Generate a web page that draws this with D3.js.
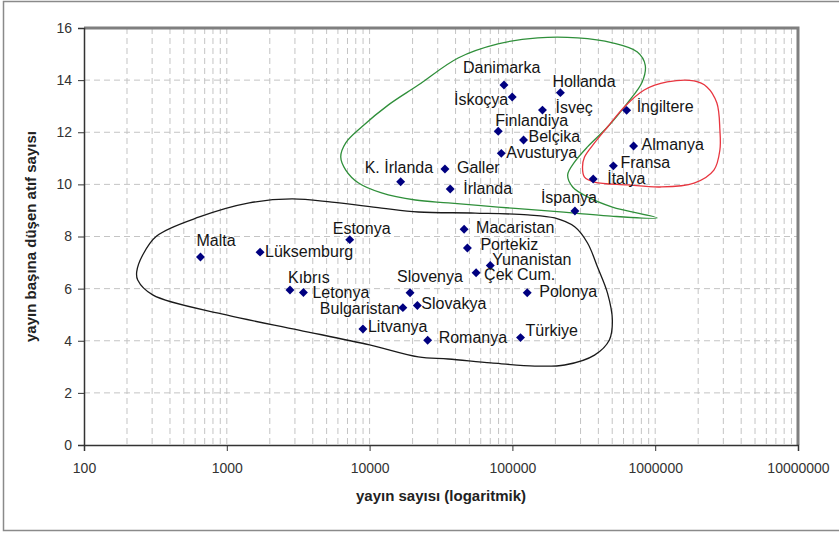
<!DOCTYPE html>
<html><head><meta charset="utf-8">
<script src="https://cdn.jsdelivr.net/npm/d3@7"></script>
<style>
html,body{margin:0;padding:0;background:#fff;}
svg{display:block;font-family:"Liberation Sans",Arial,sans-serif;}
</style></head>
<body>
<svg id="chart" width="839" height="533"></svg>
<script>
// ---- data ----
const countries = ["Malta","Lüksemburg","Estonya","Kıbrıs","Letonya","Bulgaristan","Slovenya","Slovakya","Litvanya","Romanya","Türkiye","Polonya","Çek Cum.","Yunanistan","Portekiz","Macaristan","K. İrlanda","Galler","İrlanda","İspanya","Avusturya","Belçika","Finlandiya","İsveç","İskoçya","Danimarka","Hollanda","İngiltere","Almanya","Fransa","İtalya"];
const publications = [654,1710,7260,2770,3440,17100,19200,21600,8980,25500,114000,127000,55700,70000,48400,45900,16500,33700,36700,274000,83600,119700,79600,162400,99700,87300,216800,631000,706000,509500,368100];
const citesPerPub = [7.21,7.40,7.88,5.95,5.85,5.27,5.84,5.35,4.45,4.02,4.12,5.84,6.61,6.89,7.56,8.28,10.10,10.59,9.82,8.98,11.19,11.70,12.04,12.85,13.35,13.81,13.52,12.84,11.47,10.71,10.21];
const xTickValues = [100,1000,10000,100000,1000000,10000000];
const yTickValues = [0,2,4,6,8,10,12,14,16];
const xTitle = "yayın sayısı (logaritmik)";
const yTitle = "yayın başına düşen atıf sayısı";
// group outlines (hand-drawn), as [log10(publications), cites]
const blackGroup = [[2.369,6.64],[2.411,7.29],[2.509,8.02],[2.808,8.75],[3.157,9.29],[3.456,9.44],[3.735,9.32],[4.084,9.09],[4.341,8.94],[4.739,8.90],[5.108,8.83],[5.296,8.71],[5.436,8.37],[5.526,7.75],[5.596,6.83],[5.666,5.83],[5.700,4.80],[5.679,4.03],[5.575,3.45],[5.366,3.07],[5.157,3.03],[4.850,3.15],[4.551,3.30],[4.341,3.38],[4.0,3.84],[3.505,4.41],[2.997,4.99],[2.481,5.76],[2.376,6.33]];
const greenGroup = [[3.944,12.20],[4.132,13.05],[4.341,13.81],[4.620,14.85],[4.899,15.39],[5.178,15.62],[5.456,15.62],[5.700,15.43],[5.875,15.08],[5.930,14.58],[5.909,13.93],[5.805,13.12],[5.666,12.20],[5.526,11.44],[5.436,10.86],[5.387,10.36],[5.422,9.90],[5.526,9.52],[5.700,9.13],[6.014,8.71],[5.666,8.79],[5.436,8.90],[5.247,8.98],[4.899,9.13],[4.551,9.29],[4.321,9.40],[4.084,9.67],[3.923,10.05],[3.833,10.55],[3.798,11.05],[3.833,11.59]];
const redGroup = [[5.491,10.67],[5.505,11.05],[5.575,11.59],[5.666,12.20],[5.784,12.97],[5.923,13.62],[6.084,13.93],[6.272,13.97],[6.362,13.74],[6.432,13.12],[6.453,12.09],[6.453,11.32],[6.411,10.55],[6.272,10.05],[6.035,9.90],[5.805,9.98],[5.575,10.09],[5.505,10.28]];

// ---- label layout (offsets in px from marker) ----
const labelLayout = {
 "Malta":[-4,-11,"start"],"Lüksemburg":[5,5,"start"],"Estonya":[-17,-6,"start"],"Kıbrıs":[-2,-7,"start"],
 "Letonya":[9,5,"start"],"Bulgaristan":[-3,6,"end"],"Slovenya":[-13,-11,"start"],"Slovakya":[4,3,"start"],
 "Litvanya":[5,3,"start"],"Romanya":[11,3,"start"],"Türkiye":[5,-2,"start"],"Polonya":[12,4,"start"],
 "Çek Cum.":[8,7,"start"],"Yunanistan":[2,0,"start"],"Portekiz":[13,2,"start"],"Macaristan":[12,4,"start"],
 "K. İrlanda":[-36,-9,"start"],"Galler":[12,4,"start"],"İrlanda":[13,5,"start"],"İspanya":[-34,-8,"start"],
 "Avusturya":[5,5,"start"],"Belçika":[5,2,"start"],"Finlandiya":[-3,-5,"start"],"İsveç":[13,3,"start"],
 "İskoçya":[-4,8,"end"],"Danimarka":[-41,-12,"start"],"Hollanda":[-8,-6,"start"],"İngiltere":[10,2,"start"],
 "Almanya":[8,4,"start"],"Fransa":[7,2,"start"],"İtalya":[14,5,"start"]
};

const svg = d3.select("#chart");
const W = 839, H = 533;
const plot = {l:84, r:798, t:28, b:445};

const x = d3.scaleLog().domain([100,10000000]).range([plot.l, plot.r]);
const y = d3.scaleLinear().domain([0,16]).range([plot.b, plot.t]);

// outer border
svg.append("rect").attr("x",3.5).attr("y",1.5).attr("width",W+10).attr("height",529)
  .attr("fill","none").attr("stroke","#8a8a8a").attr("stroke-width",1.5);

// grid: vertical (all 1..9 multiples per decade)
const vGrid = [];
for (let d=100; d<10000000; d*=10) for (let k=1;k<10;k++) vGrid.push(d*k);
svg.append("g").selectAll("line").data(vGrid.filter(v=>v>100)).join("line")
  .attr("x1",d=>x(d)).attr("x2",d=>x(d)).attr("y1",plot.t).attr("y2",plot.b)
  .attr("stroke","#c4c4c4").attr("stroke-width",1).attr("stroke-dasharray","6,4");
svg.append("g").selectAll("line").data(yTickValues.filter(v=>v>0&&v<16)).join("line")
  .attr("x1",plot.l).attr("x2",plot.r).attr("y1",d=>y(d)).attr("y2",d=>y(d))
  .attr("stroke","#c4c4c4").attr("stroke-width",1).attr("stroke-dasharray","6,4");

// plot frame (top/right grey thick)
svg.append("path").attr("d",`M${plot.l},${plot.t}H${plot.r}V${plot.b}`)
  .attr("fill","none").attr("stroke","#7f7f7f").attr("stroke-width",3);

// axes
const yAxis = svg.append("g").attr("transform",`translate(${plot.l},0)`)
  .call(d3.axisLeft(y).tickValues(yTickValues).tickSize(6).tickPadding(6).tickFormat(d3.format("d")));
const xAxis = svg.append("g").attr("transform",`translate(0,${plot.b})`)
  .call(d3.axisBottom(x).tickValues(xTickValues).tickSize(6).tickPadding(12).tickFormat(d3.format("d")));
[yAxis,xAxis].forEach(a=>{
  a.select(".domain").attr("stroke","#333").attr("stroke-width",1.5);
  a.selectAll(".tick line").attr("stroke","#333");
  a.selectAll(".tick text").attr("font-size",14).attr("fill","#333").attr("font-family","Liberation Sans, Arial, sans-serif");
});

// group outlines
const outline = d3.line().x(d=>x(Math.pow(10,d[0]))).y(d=>y(d[1])).curve(d3.curveCatmullRomClosed.alpha(0.5));
svg.append("path").attr("d",outline(blackGroup)).attr("fill","none").attr("stroke","#1a1a1a").attr("stroke-width",1.3);
svg.append("path").attr("d",outline(greenGroup)).attr("fill","none").attr("stroke","#2f8f3a").attr("stroke-width",1.3);
svg.append("path").attr("d",outline(redGroup)).attr("fill","none").attr("stroke","#e8353f").attr("stroke-width",1.3);

// points
const pts = countries.map((c,i)=>({name:c, px:publications[i], cy:citesPerPub[i]}));
const diamond = d3.symbol().type(d3.symbolSquare).size(40);
svg.append("g").selectAll("path").data(pts).join("path")
  .attr("d",diamond)
  .attr("transform",d=>`translate(${x(d.px)},${y(d.cy)}) rotate(45)`)
  .attr("fill","#000080");

// labels
svg.append("g").selectAll("text").data(pts).join("text")
  .attr("x",d=>x(d.px)+labelLayout[d.name][0])
  .attr("y",d=>y(d.cy)+labelLayout[d.name][1])
  .attr("text-anchor",d=>labelLayout[d.name][2])
  .attr("font-size",16).attr("fill","#151515")
  .text(d=>d.name);

// axis titles
svg.append("text").attr("x",(plot.l+plot.r)/2+0).attr("y",501).attr("text-anchor","middle")
  .attr("font-size",15).attr("font-weight","bold").attr("fill","#222").text(xTitle);
svg.append("text").attr("transform",`translate(36,${(plot.t+plot.b)/2}) rotate(-90)`).attr("text-anchor","middle")
  .attr("font-size",15).attr("font-weight","bold").attr("fill","#222").text(yTitle);
</script>
</body></html>
